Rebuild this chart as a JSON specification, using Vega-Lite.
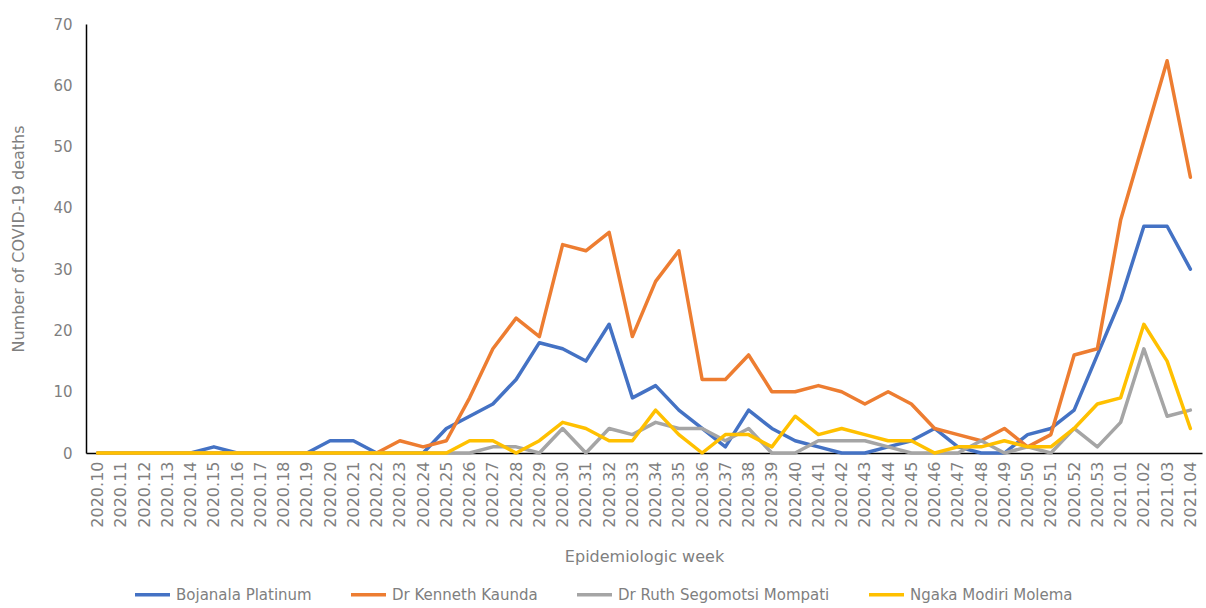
{
  "$schema": "https://vega.github.io/schema/vega-lite/v6.json",
  "width": 1116,
  "height": 429,
  "autosize": {"type": "none"},
  "padding": {"left": 86, "top": 24, "right": 4, "bottom": 155},
  "background": "white",
  "config": {"view": {"stroke": null}, "font": "DejaVu Sans"},
  "data": {"values": [
    {"week": "2020.10", "Bojanala Platinum": 0, "Dr Kenneth Kaunda": 0, "Dr Ruth Segomotsi Mompati": 0, "Ngaka Modiri Molema": 0},
    {"week": "2020.11", "Bojanala Platinum": 0, "Dr Kenneth Kaunda": 0, "Dr Ruth Segomotsi Mompati": 0, "Ngaka Modiri Molema": 0},
    {"week": "2020.12", "Bojanala Platinum": 0, "Dr Kenneth Kaunda": 0, "Dr Ruth Segomotsi Mompati": 0, "Ngaka Modiri Molema": 0},
    {"week": "2020.13", "Bojanala Platinum": 0, "Dr Kenneth Kaunda": 0, "Dr Ruth Segomotsi Mompati": 0, "Ngaka Modiri Molema": 0},
    {"week": "2020.14", "Bojanala Platinum": 0, "Dr Kenneth Kaunda": 0, "Dr Ruth Segomotsi Mompati": 0, "Ngaka Modiri Molema": 0},
    {"week": "2020.15", "Bojanala Platinum": 1, "Dr Kenneth Kaunda": 0, "Dr Ruth Segomotsi Mompati": 0, "Ngaka Modiri Molema": 0},
    {"week": "2020.16", "Bojanala Platinum": 0, "Dr Kenneth Kaunda": 0, "Dr Ruth Segomotsi Mompati": 0, "Ngaka Modiri Molema": 0},
    {"week": "2020.17", "Bojanala Platinum": 0, "Dr Kenneth Kaunda": 0, "Dr Ruth Segomotsi Mompati": 0, "Ngaka Modiri Molema": 0},
    {"week": "2020.18", "Bojanala Platinum": 0, "Dr Kenneth Kaunda": 0, "Dr Ruth Segomotsi Mompati": 0, "Ngaka Modiri Molema": 0},
    {"week": "2020.19", "Bojanala Platinum": 0, "Dr Kenneth Kaunda": 0, "Dr Ruth Segomotsi Mompati": 0, "Ngaka Modiri Molema": 0},
    {"week": "2020.20", "Bojanala Platinum": 2, "Dr Kenneth Kaunda": 0, "Dr Ruth Segomotsi Mompati": 0, "Ngaka Modiri Molema": 0},
    {"week": "2020.21", "Bojanala Platinum": 2, "Dr Kenneth Kaunda": 0, "Dr Ruth Segomotsi Mompati": 0, "Ngaka Modiri Molema": 0},
    {"week": "2020.22", "Bojanala Platinum": 0, "Dr Kenneth Kaunda": 0, "Dr Ruth Segomotsi Mompati": 0, "Ngaka Modiri Molema": 0},
    {"week": "2020.23", "Bojanala Platinum": 0, "Dr Kenneth Kaunda": 2, "Dr Ruth Segomotsi Mompati": 0, "Ngaka Modiri Molema": 0},
    {"week": "2020.24", "Bojanala Platinum": 0, "Dr Kenneth Kaunda": 1, "Dr Ruth Segomotsi Mompati": 0, "Ngaka Modiri Molema": 0},
    {"week": "2020.25", "Bojanala Platinum": 4, "Dr Kenneth Kaunda": 2, "Dr Ruth Segomotsi Mompati": 0, "Ngaka Modiri Molema": 0},
    {"week": "2020.26", "Bojanala Platinum": 6, "Dr Kenneth Kaunda": 9, "Dr Ruth Segomotsi Mompati": 0, "Ngaka Modiri Molema": 2},
    {"week": "2020.27", "Bojanala Platinum": 8, "Dr Kenneth Kaunda": 17, "Dr Ruth Segomotsi Mompati": 1, "Ngaka Modiri Molema": 2},
    {"week": "2020.28", "Bojanala Platinum": 12, "Dr Kenneth Kaunda": 22, "Dr Ruth Segomotsi Mompati": 1, "Ngaka Modiri Molema": 0},
    {"week": "2020.29", "Bojanala Platinum": 18, "Dr Kenneth Kaunda": 19, "Dr Ruth Segomotsi Mompati": 0, "Ngaka Modiri Molema": 2},
    {"week": "2020.30", "Bojanala Platinum": 17, "Dr Kenneth Kaunda": 34, "Dr Ruth Segomotsi Mompati": 4, "Ngaka Modiri Molema": 5},
    {"week": "2020.31", "Bojanala Platinum": 15, "Dr Kenneth Kaunda": 33, "Dr Ruth Segomotsi Mompati": 0, "Ngaka Modiri Molema": 4},
    {"week": "2020.32", "Bojanala Platinum": 21, "Dr Kenneth Kaunda": 36, "Dr Ruth Segomotsi Mompati": 4, "Ngaka Modiri Molema": 2},
    {"week": "2020.33", "Bojanala Platinum": 9, "Dr Kenneth Kaunda": 19, "Dr Ruth Segomotsi Mompati": 3, "Ngaka Modiri Molema": 2},
    {"week": "2020.34", "Bojanala Platinum": 11, "Dr Kenneth Kaunda": 28, "Dr Ruth Segomotsi Mompati": 5, "Ngaka Modiri Molema": 7},
    {"week": "2020.35", "Bojanala Platinum": 7, "Dr Kenneth Kaunda": 33, "Dr Ruth Segomotsi Mompati": 4, "Ngaka Modiri Molema": 3},
    {"week": "2020.36", "Bojanala Platinum": 4, "Dr Kenneth Kaunda": 12, "Dr Ruth Segomotsi Mompati": 4, "Ngaka Modiri Molema": 0},
    {"week": "2020.37", "Bojanala Platinum": 1, "Dr Kenneth Kaunda": 12, "Dr Ruth Segomotsi Mompati": 2, "Ngaka Modiri Molema": 3},
    {"week": "2020.38", "Bojanala Platinum": 7, "Dr Kenneth Kaunda": 16, "Dr Ruth Segomotsi Mompati": 4, "Ngaka Modiri Molema": 3},
    {"week": "2020.39", "Bojanala Platinum": 4, "Dr Kenneth Kaunda": 10, "Dr Ruth Segomotsi Mompati": 0, "Ngaka Modiri Molema": 1},
    {"week": "2020.40", "Bojanala Platinum": 2, "Dr Kenneth Kaunda": 10, "Dr Ruth Segomotsi Mompati": 0, "Ngaka Modiri Molema": 6},
    {"week": "2020.41", "Bojanala Platinum": 1, "Dr Kenneth Kaunda": 11, "Dr Ruth Segomotsi Mompati": 2, "Ngaka Modiri Molema": 3},
    {"week": "2020.42", "Bojanala Platinum": 0, "Dr Kenneth Kaunda": 10, "Dr Ruth Segomotsi Mompati": 2, "Ngaka Modiri Molema": 4},
    {"week": "2020.43", "Bojanala Platinum": 0, "Dr Kenneth Kaunda": 8, "Dr Ruth Segomotsi Mompati": 2, "Ngaka Modiri Molema": 3},
    {"week": "2020.44", "Bojanala Platinum": 1, "Dr Kenneth Kaunda": 10, "Dr Ruth Segomotsi Mompati": 1, "Ngaka Modiri Molema": 2},
    {"week": "2020.45", "Bojanala Platinum": 2, "Dr Kenneth Kaunda": 8, "Dr Ruth Segomotsi Mompati": 0, "Ngaka Modiri Molema": 2},
    {"week": "2020.46", "Bojanala Platinum": 4, "Dr Kenneth Kaunda": 4, "Dr Ruth Segomotsi Mompati": 0, "Ngaka Modiri Molema": 0},
    {"week": "2020.47", "Bojanala Platinum": 1, "Dr Kenneth Kaunda": 3, "Dr Ruth Segomotsi Mompati": 0, "Ngaka Modiri Molema": 1},
    {"week": "2020.48", "Bojanala Platinum": 0, "Dr Kenneth Kaunda": 2, "Dr Ruth Segomotsi Mompati": 2, "Ngaka Modiri Molema": 1},
    {"week": "2020.49", "Bojanala Platinum": 0, "Dr Kenneth Kaunda": 4, "Dr Ruth Segomotsi Mompati": 0, "Ngaka Modiri Molema": 2},
    {"week": "2020.50", "Bojanala Platinum": 3, "Dr Kenneth Kaunda": 1, "Dr Ruth Segomotsi Mompati": 1, "Ngaka Modiri Molema": 1},
    {"week": "2020.51", "Bojanala Platinum": 4, "Dr Kenneth Kaunda": 3, "Dr Ruth Segomotsi Mompati": 0, "Ngaka Modiri Molema": 1},
    {"week": "2020.52", "Bojanala Platinum": 7, "Dr Kenneth Kaunda": 16, "Dr Ruth Segomotsi Mompati": 4, "Ngaka Modiri Molema": 4},
    {"week": "2020.53", "Bojanala Platinum": 16, "Dr Kenneth Kaunda": 17, "Dr Ruth Segomotsi Mompati": 1, "Ngaka Modiri Molema": 8},
    {"week": "2021.01", "Bojanala Platinum": 25, "Dr Kenneth Kaunda": 38, "Dr Ruth Segomotsi Mompati": 5, "Ngaka Modiri Molema": 9},
    {"week": "2021.02", "Bojanala Platinum": 37, "Dr Kenneth Kaunda": 51, "Dr Ruth Segomotsi Mompati": 17, "Ngaka Modiri Molema": 21},
    {"week": "2021.03", "Bojanala Platinum": 37, "Dr Kenneth Kaunda": 64, "Dr Ruth Segomotsi Mompati": 6, "Ngaka Modiri Molema": 15},
    {"week": "2021.04", "Bojanala Platinum": 30, "Dr Kenneth Kaunda": 45, "Dr Ruth Segomotsi Mompati": 7, "Ngaka Modiri Molema": 4}
  ]},
  "transform": [
    {"fold": ["Bojanala Platinum", "Dr Kenneth Kaunda", "Dr Ruth Segomotsi Mompati", "Ngaka Modiri Molema"], "as": ["district", "deaths"]}
  ],
  "mark": {"type": "line", "strokeWidth": 3.5, "strokeJoin": "round", "strokeCap": "round"},
  "encoding": {
    "x": {
      "field": "week", "type": "ordinal",
      "scale": {"type": "point", "padding": 0.5},
      "axis": {
        "title": "Epidemiologic week", "labelAngle": -90, "labelFontSize": 16, "labelColor": "#7f7f7f",
        "labelPadding": 8, "ticks": false, "domainColor": "#000000", "domainWidth": 1.5, "grid": false,
        "titleFontSize": 16, "titleFontWeight": "normal", "titleColor": "#7f7f7f", "titlePadding": 21
      }
    },
    "y": {
      "field": "deaths", "type": "quantitative",
      "scale": {"domain": [0, 70], "nice": false},
      "axis": {
        "title": "Number of COVID-19 deaths", "values": [0, 10, 20, 30, 40, 50, 60, 70],
        "grid": false, "ticks": false, "domainColor": "#000000", "domainWidth": 1.5,
        "labelFontSize": 15, "labelColor": "#7f7f7f", "labelPadding": 14,
        "titleFontSize": 16, "titleFontWeight": "normal", "titleColor": "#7f7f7f", "titlePadding": 26
      }
    },
    "color": {
      "field": "district", "type": "nominal",
      "scale": {
        "domain": ["Bojanala Platinum", "Dr Kenneth Kaunda", "Dr Ruth Segomotsi Mompati", "Ngaka Modiri Molema"],
        "range": ["#4472C4", "#ED7D31", "#A5A5A5", "#FFC000"]
      },
      "legend": {
        "orient": "none", "legendX": 47, "legendY": 551, "direction": "horizontal", "title": null,
        "symbolType": "stroke", "symbolStrokeWidth": 3.5, "symbolSize": 1225,
        "labelFontSize": 15, "labelColor": "#7f7f7f", "labelOffset": 4, "labelLimit": 400, "columnPadding": 32
      }
    }
  }
}
